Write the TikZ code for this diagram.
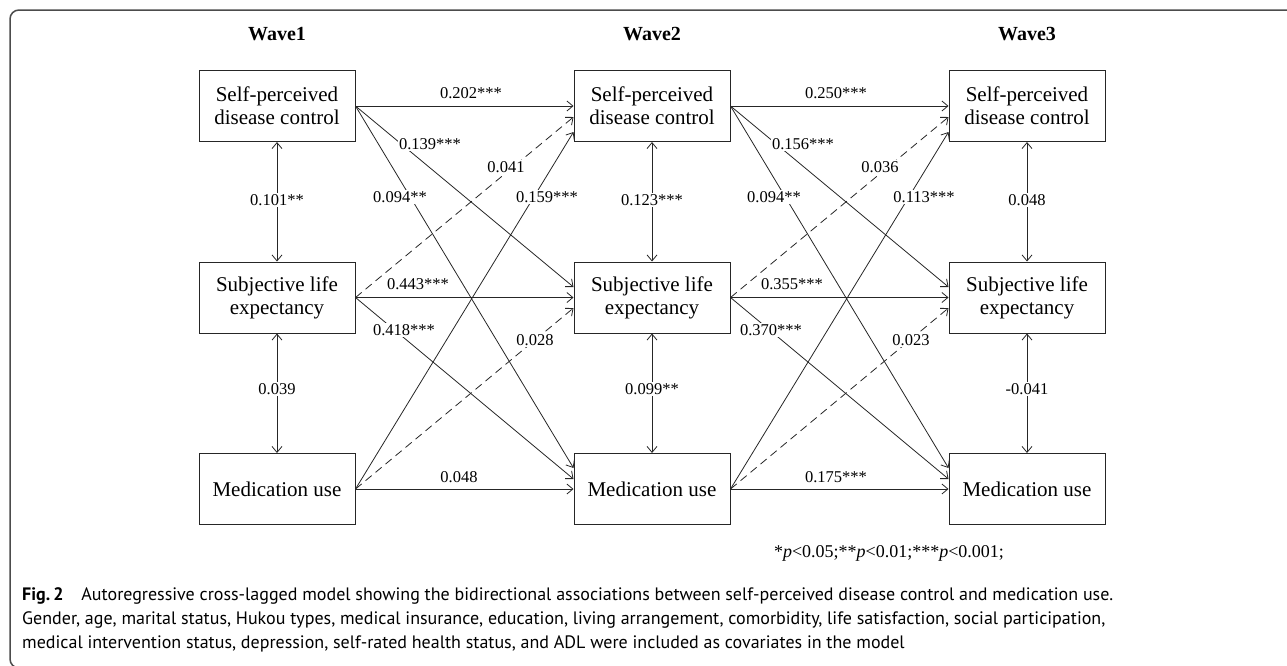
\documentclass[tikz,border=0pt]{standalone}
\usepackage{fontspec}
\setmainfont{Liberation Serif}
\newfontfamily\capfont{PT Sans}
\usetikzlibrary{arrows.meta,positioning,calc}

\tikzset{
  varbox/.style={draw=black!85,line width=1pt,minimum width=156pt,minimum height=71pt,
    inner sep=0pt,align=center,font=\fontsize{21}{23}\selectfont},
  lag/.style={draw=black!85,line width=0.8pt,-{Straight Barb[length=6pt,width=10pt]}},
  lagns/.style={lag,dash pattern=on 8pt off 5pt},
  cov/.style={draw=black!85,line width=0.8pt,
    {Straight Barb[length=6pt,width=10pt]}-{Straight Barb[length=6pt,width=10pt]}},
  coef/.style={fill=white,inner sep=1.5pt,font=\fontsize{16.5}{18}\selectfont},
  wave/.style={font=\fontsize{20}{22}\selectfont\bfseries},
  capline/.style={anchor=base west,inner sep=0pt,font=\capfont\fontsize{18}{24}\selectfont},
}

\begin{document}
\begin{tikzpicture}[x=1pt,y=-1pt]
\useasboundingbox (0,0) rectangle (1287,665);
% frame
\draw[black!70,line width=1.5pt,rounded corners=9pt] (1295,10) -- (10,10) -- (10,668) -- (60,668);

% variables per wave
\foreach \i/\x in {1/277,2/652,3/1027} {
  \node[wave] (wave\i) at (\x,34) {Wave\i};
  \node[varbox] (spdc\i) at (\x,106) {Self-perceived\\disease control};
  \node[varbox] (sle\i) at (\x,297.5) {Subjective life\\expectancy};
  \node[varbox] (med\i) at (\x,489) {Medication use};
  \draw[cov] (spdc\i) -- (sle\i);
  \draw[cov] (sle\i) -- (med\i);
}

% cross-lagged paths
\foreach \i/\j in {1/2,2/3} {
  \draw[lag] (spdc\i.east) -- (spdc\j.west);
  \draw[lag] (spdc\i.east) -- ([yshift=10.5pt]sle\j.west);
  \draw[lag] (spdc\i.east) -- ([yshift=21pt]med\j.west);
  \draw[lagns] (sle\i.east) -- ([yshift=-11pt]spdc\j.west);
  \draw[lag] (sle\i.east) -- (sle\j.west);
  \draw[lag] (sle\i.east) -- ([yshift=10pt]med\j.west);
  \draw[lag] (med\i.east) -- ([yshift=-26pt]spdc\j.west);
  \draw[lagns] (med\i.east) -- ([yshift=-10.5pt]sle\j.west);
  \draw[lag] (med\i.east) -- (med\j.west);
}

% coefficients, wave 1 -> 2
\node[coef] (c202) at (471,93) {0.202***};
\node[coef] (c139) at (430,144) {0.139***};
\node[coef] (c094a) at (400,197) {0.094**};
\node[coef] (c041) at (506,167) {0.041};
\node[coef] (c159) at (547,197) {0.159***};
\node[coef] (c443) at (418,284) {0.443***};
\node[coef] (c418) at (404,330) {0.418***};
\node[coef] (c028) at (535,340) {0.028};
\node[coef] (c048a) at (459,477) {0.048};
% coefficients, wave 2 -> 3
\node[coef] (c250) at (836,93) {0.250***};
\node[coef] (c156) at (803,144) {0.156***};
\node[coef] (c094b) at (774,197) {0.094**};
\node[coef] (c036) at (880,167) {0.036};
\node[coef] (c113) at (924,197) {0.113***};
\node[coef] (c355) at (792,284) {0.355***};
\node[coef] (c370) at (771,330) {0.370***};
\node[coef] (c023) at (911,340) {0.023};
\node[coef] (c175) at (836,477) {0.175***};
% within-wave covariances
\node[coef] (r101) at (277,200) {0.101**};
\node[coef] (r039) at (277,389) {0.039};
\node[coef] (r123) at (652,200) {0.123***};
\node[coef] (r099) at (652,389) {0.099**};
\node[coef] (r048) at (1027,200) {0.048};
\node[coef] (r041) at (1027,389) {-0.041};

\node[font=\fontsize{18}{20}\selectfont] (sig) at (889,553)
  {*\textit{p}<0.05;**\textit{p}<0.01;***\textit{p}<0.001;};

% caption
\node[capline] (cap1) at (22,600) {{\bfseries Fig.\,2}\quad Autoregressive cross-lagged model showing the bidirectional associations between self-perceived disease control and medication use.};
\node[capline] (cap2) at (22,624) {Gender, age, marital status, Hukou types, medical insurance, education, living arrangement, comorbidity, life satisfaction, social participation,};
\node[capline] (cap3) at (22,648) {medical intervention status, depression, self-rated health status, and ADL were included as covariates in the model};
\end{tikzpicture}
\end{document}
